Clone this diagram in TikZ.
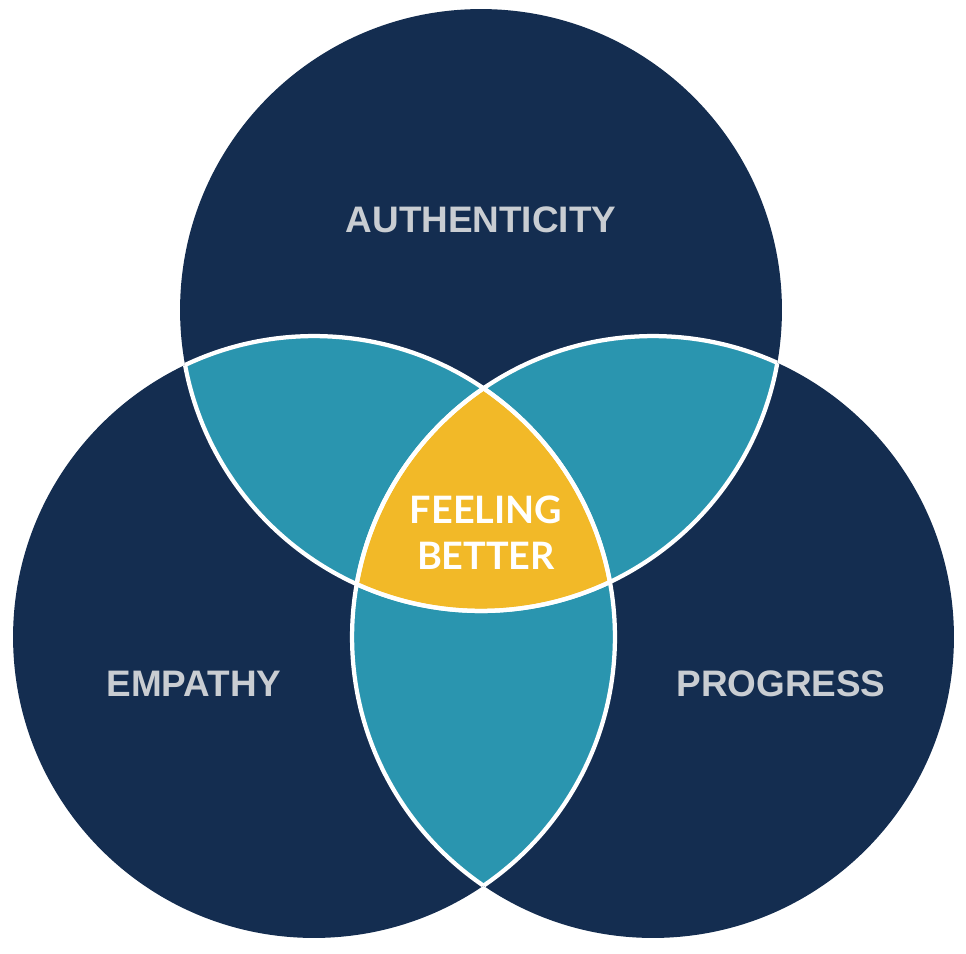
\documentclass[tikz,border=0pt]{standalone}
\usepackage{fontspec}
\setmainfont{Liberation Sans}
\newfontfamily\corefont{Lato}
\definecolor{navyblue}{HTML}{142D50}
\definecolor{lensteal}{HTML}{2A95AF}
\definecolor{coreyellow}{HTML}{F2B928}
\definecolor{labelgray}{HTML}{C9CDD2}

\begin{document}
\begin{tikzpicture}[
    x=0.02cm, y=-0.02cm,
    disc/.style={radius=6.02cm},
    edge/.style={draw=white, line width=0.085cm},
    venntext/.style={text=labelgray, font=\bfseries\fontsize{21}{24}\selectfont},
    coretext/.style={text=white, align=center, font=\corefont\bfseries\fontsize{21.5}{26}\selectfont}
]
    \useasboundingbox (0,0) rectangle (966,953);

    % Circle centres
    \coordinate (Top) at (481,310);
    \coordinate (Left) at (314,637);
    \coordinate (Right) at (653,637);

    % Outer discs
    \foreach \c in {Top, Left, Right}
        \fill[navyblue] (\c) circle[disc];

    % Pairwise lenses
    \foreach \a/\b in {Top/Left, Top/Right, Left/Right} {
        \begin{scope}
            \clip (\a) circle[disc];
            \fill[lensteal] (\b) circle[disc];
        \end{scope}
    }

    % Core region
    \begin{scope}
        \clip (Top) circle[disc];
        \clip (Left) circle[disc];
        \fill[coreyellow] (Right) circle[disc];
    \end{scope}

    % White inner borders
    \foreach \a/\b in {Top/Left, Top/Right, Left/Top, Left/Right, Right/Top, Right/Left} {
        \begin{scope}
            \clip (\b) circle[disc];
            \draw[edge] (\a) circle[disc];
        \end{scope}
    }

    % Labels
    \node[venntext] (Authenticity) at (481,220) {AUTHENTICITY};
    \node[venntext] (Empathy) at (194,684) {EMPATHY};
    \node[venntext] (Progress) at (781,684) {PROGRESS};
    \node[coretext] (Feeling) at (486,533) {FEELING\\BETTER};
\end{tikzpicture}
\end{document}
